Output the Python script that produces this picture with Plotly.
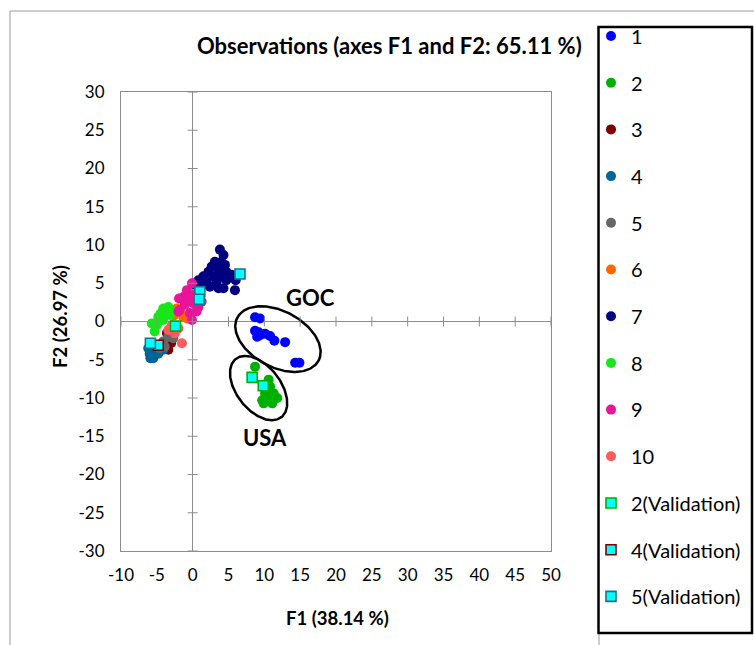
import numpy as np
import plotly.graph_objects as go

# ---------------- data ----------------
series_names = ["1", "2", "3", "4", "5", "6", "7", "8", "9", "10"]
series_colors = ["#0000FF", "#00B000", "#800000", "#006699", "#666666",
                 "#FF6600", "#000080", "#19E619", "#E8149A", "#FF5B5B"]

x1 = [8.7, 9.4, 8.7, 9.2, 9.4, 10.1, 10.8, 11.4, 12.9, 14.3, 14.9, 9.0]
y1 = [0.55, 0.4, -1.2, -1.4, -1.8, -1.6, -1.9, -2.5, -2.7, -5.4, -5.4, -2.0]

x2 = [8.7, 10.6, 10.8, 9.7, 11.8, 11.3, 10.1, 9.9, 11.1, 10.6, 10.5, 11.5, 11.0, 10.1]
y2 = [-5.9, -7.6, -8.5, -10.3, -10.0, -9.4, -9.4, -10.7, -10.7, -9.0, -10.3, -10.0, -10.5, -10.5]

x3 = [-3.4, -3.6, -3.0]
y3 = [-3.7, -1.5, -2.8]

x4 = [-6.0, -5.5, -4.8, -4.1, -6.2, -5.3, -5.9, -4.5]
y4 = [-4.2, -4.8, -4.2, -3.7, -3.5, -3.7, -4.8, -3.2]

x5 = [-4.1, -3.4, -2.7, -4.6, -3.9, -3.0]
y5 = [-2.6, -2.0, -2.2, -3.5, -3.3, -1.6]

x6 = [-1.8, -1.3, -2.2, -0.8, -2.6]
y6 = [1.3, 0.6, 1.7, 0.4, 0.8]

x7 = [3.8, 4.3, 3.1, 4.0, 4.5, 2.65, 2.2, 3.6, 4.7, 1.5, 2.9, 4.0, 5.4, 0.8,
      1.95, 3.35, 4.7, 2.4, 3.6, 4.3, 5.9, 0.3, 1.2, 6.0]
y7 = [9.4, 8.7, 7.8, 7.8, 7.4, 7.2, 6.5, 6.7, 6.5, 5.9, 5.9, 5.9, 6.1, 5.4,
      5.2, 5.2, 5.4, 4.55, 4.35, 4.35, 4.1, 4.8, 4.6, 5.4]

x8 = [-3.4, -4.1, -4.8, -5.7, -3.2, -5.3, -4.1, -2.9, -4.5, -5.0]
y8 = [1.9, 1.7, 0.6, -0.25, 0.85, -1.3, 0.2, 1.3, 1.0, -0.5]

x9 = [-0.1, -0.8, -1.3, -0.6, 0.3, -1.8, -1.1, 0.1, 0.8, 1.25, -2.0, -0.4, 0.55, -0.1, -1.9]
y9 = [5.0, 4.1, 3.2, 3.0, 3.5, 1.5, 2.2, 2.4, 1.9, 2.6, 1.3, 1.1, 1.3, 0.2, 3.0]

x10 = [-1.5, -3.4, -2.9, -2.5, -2.0]
y10 = [-2.85, -1.1, -0.5, -1.55, -0.9]

series_x = [x1, x2, x3, x4, x5, x6, x7, x8, x9, x10]
series_y = [y1, y2, y3, y4, y5, y6, y7, y8, y9, y10]

val_names = ["2(Validation)", "4(Validation)", "5(Validation)"]
val_border = ["#00B000", "#800000", "#1F6F8B"]
val_x = [[8.3, 9.85, -2.4], [-4.8], [-5.9, 1.0, 0.9, 6.6]]
val_y = [[-7.3, -8.4, -0.6], [-3.1], [-2.85, 3.9, 2.9, 6.2]]

x_ticks = list(range(-10, 55, 5))
y_ticks = list(range(-30, 35, 5))
x_ticktext = [str(v) for v in x_ticks]
y_ticktext = [str(v) for v in y_ticks]

# group ellipses: centre (data units), semi-axes (px), tilt (deg)
groups = ["GOC", "USA"]
group_centre = [(11.9, -2.3), (9.2, -8.7)]
group_axes = [(46, 28), (37, 22)]
group_tilt = [28, 52]
group_label_pos = [(16.4, 3.2), (10.1, -15.1)]

# ---------------- layout geometry ----------------
W, H = 754, 645
ML, MR, MT, MB = 121, 203, 92, 94
PW, PH = W - ML - MR, H - MT - MB
XR, YR = (-10, 50), (-30, 30)
SX = PW / (XR[1] - XR[0])
SY = PH / (YR[1] - YR[0])


def px_x(px):
    return (px - ML) / PW


def px_y(py):
    return (H - MB - py) / PH


FONT = "Lato, 'Open Sans', sans-serif"

fig = go.Figure()

for i, name in enumerate(series_names):
    fig.add_trace(go.Scatter(
        x=series_x[i], y=series_y[i], mode="markers", name=name,
        legendgroup=name,
        marker=dict(color=series_colors[i], size=10, symbol="circle", line=dict(width=0)),
    ))

for i, name in enumerate(val_names):
    fig.add_trace(go.Scatter(
        x=val_x[i], y=val_y[i], mode="markers", name=name,
        legendgroup=name,
        marker=dict(color="#00FFFF", size=10, symbol="square",
                    line=dict(color=val_border[i], width=1.6)),
    ))

# ellipses around groups
t = np.linspace(0, 2 * np.pi, 240)
for (cx, cy), (a, b), th in zip(group_centre, group_axes, group_tilt):
    r = np.deg2rad(th)
    dx = a * np.cos(t) * np.cos(r) - b * np.sin(t) * np.sin(r)
    dy = a * np.cos(t) * np.sin(r) + b * np.sin(t) * np.cos(r)
    fig.add_trace(go.Scatter(
        x=cx + dx / SX, y=cy - dy / SY, mode="lines",
        line=dict(color="black", width=2.5), showlegend=False, hoverinfo="skip",
    ))

shapes = []
# cross tick marks on the zero lines
for tx in x_ticks:
    shapes.append(dict(type="line", xref="x", yref="y", x0=tx, x1=tx,
                       y0=-5 / SY, y1=5 / SY, line=dict(color="#8C8C8C", width=1)))
for ty in y_ticks:
    shapes.append(dict(type="line", xref="x", yref="y", y0=ty, y1=ty,
                       x0=-5 / SX, x1=5 / SX, line=dict(color="#8C8C8C", width=1)))
# outer chart frame
FRAME = dict(color="#9A9A9A", width=1)
shapes.append(dict(type="line", xref="paper", yref="paper", layer="below",
                   x0=px_x(10), x1=px_x(10), y0=px_y(680), y1=px_y(11), line=FRAME))
shapes.append(dict(type="line", xref="paper", yref="paper", layer="below",
                   x0=px_x(10), x1=px_x(760), y0=px_y(11), y1=px_y(11), line=FRAME))
shapes.append(dict(type="line", xref="paper", yref="paper", layer="below",
                   x0=px_x(599), x1=px_x(599), y0=px_y(680), y1=px_y(633), line=FRAME))
# legend box
shapes.append(dict(type="rect", xref="paper", yref="paper", layer="below",
                   x0=px_x(598.5), x1=px_x(752), y0=px_y(633), y1=px_y(27),
                   fillcolor="white", line=dict(color="black", width=2.5)))

annotations = [
    dict(text="<b>Observations (axes F1 and F2: 65.11 %)</b>", xref="paper", yref="paper",
         x=px_x(389), y=px_y(46), showarrow=False, xanchor="center", yanchor="middle",
         font=dict(size=22, color="black", family=FONT)),
    dict(text="<b>F1 (38.14 %)</b>", xref="paper", yref="paper",
         x=px_x(337), y=px_y(618), showarrow=False, xanchor="center", yanchor="middle",
         font=dict(size=18.5, color="black", family=FONT)),
    dict(text="<b>F2 (26.97 %)</b>", xref="paper", yref="paper", textangle=-90,
         x=px_x(60), y=px_y(317), showarrow=False, xanchor="center", yanchor="middle",
         font=dict(size=18.5, color="black", family=FONT)),
]
for g, (lx, ly) in zip(groups, group_label_pos):
    annotations.append(dict(text=f"<b>{g}</b>", x=lx, y=ly, xref="x", yref="y",
                            showarrow=False, font=dict(size=22, color="black", family=FONT)))

axis_common = dict(showgrid=False, zeroline=True, zerolinecolor="#8C8C8C", zerolinewidth=1,
                   showline=True, mirror=True, linecolor="#8C8C8C", linewidth=1,
                   ticks="", tickfont=dict(size=17, color="black", family=FONT),
                   fixedrange=True, automargin=False)

fig.update_layout(
    width=W, height=H,
    margin=dict(l=ML, r=MR, t=MT, b=MB, pad=0, autoexpand=False),
    paper_bgcolor="white", plot_bgcolor="white",
    xaxis=dict(range=list(XR), tickvals=x_ticks, ticktext=x_ticktext,
               ticklabelstandoff=9, **axis_common),
    yaxis=dict(range=list(YR), tickvals=y_ticks, ticktext=y_ticktext,
               ticklabelstandoff=12, **axis_common),
    shapes=shapes, annotations=annotations,
    showlegend=True,
    legend=dict(x=px_x(591), y=px_y(16.5), xanchor="left", yanchor="top",
                bgcolor="rgba(0,0,0,0)", borderwidth=0, maxheight=640,
                font=dict(size=20, color="black", family=FONT),
                tracegroupgap=17.7, itemsizing="trace"),
)

fig.write_html("out.html")
